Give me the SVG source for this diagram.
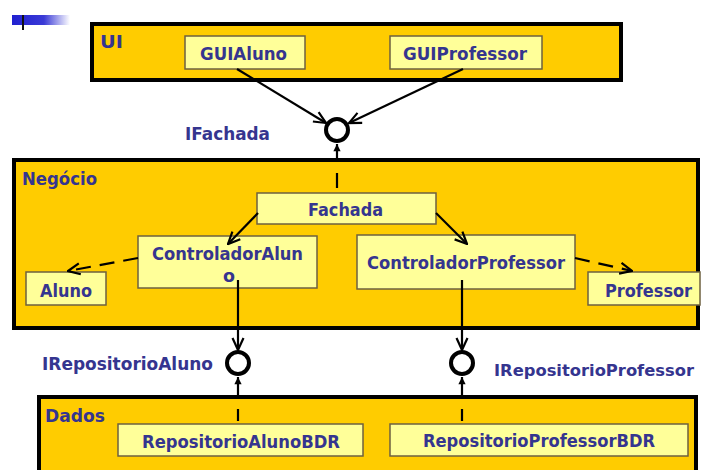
<svg xmlns="http://www.w3.org/2000/svg" width="702" height="470" viewBox="0 0 702 470">
<defs>
<linearGradient id="bar" x1="0" y1="0" x2="1" y2="0"><stop offset="0" stop-color="#2020d0"/><stop offset="0.55" stop-color="#3a3ad6"/><stop offset="1" stop-color="#ffffff"/></linearGradient>
<marker id="open" viewBox="0 0 14 14" refX="13" refY="7" markerWidth="14" markerHeight="14" markerUnits="userSpaceOnUse" orient="auto"><path d="M1,1.5 L13,7 L1,12.5" fill="none" stroke="#000" stroke-width="2.2"/></marker>
<marker id="tri" viewBox="0 0 10 10" refX="9" refY="5" markerWidth="9" markerHeight="9" markerUnits="userSpaceOnUse" orient="auto"><path d="M1,1 L9,5 L1,9 Z" fill="#000"/></marker>
</defs>
<style>
.layer{fill:#ffcc00;stroke:#000;stroke-width:4}
.box{fill:#ffff99;stroke:#6e6040;stroke-width:1.5}
.t{font-family:"DejaVu Sans",Verdana,sans-serif;font-weight:bold;font-size:17.5px;fill:#35358f}
.ln{stroke:#000;stroke-width:2.2;fill:none}
.dash{stroke-dasharray:15 9}
.iface{fill:#fff;stroke:#000;stroke-width:4}
</style>
<rect width="702" height="470" fill="#fff"/>
<rect x="12" y="15" width="58" height="10" fill="url(#bar)"/>
<rect x="22" y="15" width="2" height="15" fill="#111"/>

<g id="UI"><rect class="layer" x="92" y="24" width="529" height="56"/><text class="t" x="100" y="48" textLength="23" lengthAdjust="spacingAndGlyphs">UI</text></g>
<g id="Negocio"><rect class="layer" x="14" y="160" width="684" height="168"/><text class="t" x="22" y="185" textLength="75" lengthAdjust="spacingAndGlyphs">Negócio</text></g>
<g id="Dados"><rect class="layer" x="39" y="397" width="657" height="90"/><text class="t" x="45" y="422" textLength="60" lengthAdjust="spacingAndGlyphs">Dados</text></g>

<g id="GUIAluno"><rect class="box" x="185" y="36" width="120" height="33"/><text class="t" x="200" y="60" textLength="87" lengthAdjust="spacingAndGlyphs">GUIAluno</text></g>
<g id="GUIProfessor"><rect class="box" x="390" y="36" width="152" height="33"/><text class="t" x="403" y="60" textLength="124" lengthAdjust="spacingAndGlyphs">GUIProfessor</text></g>
<g id="Fachada"><rect class="box" x="257" y="193" width="179" height="31"/><text class="t" x="308" y="216" textLength="75" lengthAdjust="spacingAndGlyphs">Fachada</text></g>
<g id="ControladorAluno"><rect class="box" x="138" y="236" width="179" height="52"/><text class="t" x="152" y="260" textLength="151" lengthAdjust="spacingAndGlyphs">ControladorAlun</text><text class="t" x="223" y="282" textLength="12" lengthAdjust="spacingAndGlyphs">o</text></g>
<g id="Aluno"><rect class="box" x="26" y="272" width="80" height="33"/><text class="t" x="40" y="297" textLength="52" lengthAdjust="spacingAndGlyphs">Aluno</text></g>
<g id="ControladorProfessor"><rect class="box" x="357" y="235" width="218" height="54"/><text class="t" x="367" y="269" textLength="198" lengthAdjust="spacingAndGlyphs">ControladorProfessor</text></g>
<g id="Professor"><rect class="box" x="588" y="272" width="112" height="33"/><text class="t" x="605" y="297" textLength="87" lengthAdjust="spacingAndGlyphs">Professor</text></g>
<g id="RepositorioAlunoBDR"><rect class="box" x="118" y="424" width="245" height="32"/><text class="t" x="142" y="448" textLength="198" lengthAdjust="spacingAndGlyphs">RepositorioAlunoBDR</text></g>
<g id="RepositorioProfessorBDR"><rect class="box" x="390" y="424" width="298" height="32"/><text class="t" x="423" y="447" textLength="232" lengthAdjust="spacingAndGlyphs">RepositorioProfessorBDR</text></g>

<g id="connectors">
<path class="ln" d="M237,69 L326,123" marker-end="url(#open)"/>
<path class="ln" d="M463,69 L349,123" marker-end="url(#open)"/>
<path class="ln" d="M337,188 L337,173 M337,162 L337,144" stroke-width="3" marker-end="url(#tri)"/>
<path class="ln" d="M258,213 L228,244" marker-end="url(#open)"/>
<path class="ln" d="M436,213 L467,244" marker-end="url(#open)"/>
<path class="ln dash" d="M138,258 L68,271" marker-end="url(#open)" stroke-width="3"/>
<path class="ln dash" d="M575,258 L632,271" marker-end="url(#open)" stroke-width="3"/>
<path class="ln" d="M238,280 L238,350" marker-end="url(#open)"/>
<path class="ln" d="M462,280 L462,350" marker-end="url(#open)"/>
<path class="ln" d="M238,421 L238,409 M238,399 L238,377" stroke-width="3" marker-end="url(#tri)"/>
<path class="ln" d="M462,421 L462,409 M462,399 L462,377" stroke-width="3" marker-end="url(#tri)"/>
</g>

<g id="IFachada"><circle class="iface" cx="337" cy="130" r="11"/><text class="t" x="185" y="140" textLength="85" lengthAdjust="spacingAndGlyphs">IFachada</text></g>
<g id="IRepositorioAluno"><circle class="iface" cx="238" cy="363" r="11"/><text class="t" x="42" y="370" textLength="171" lengthAdjust="spacingAndGlyphs">IRepositorioAluno</text></g>
<g id="IRepositorioProfessor"><circle class="iface" cx="462" cy="363" r="11"/><text class="t" x="494" y="376" style="font-size:16px" textLength="200" lengthAdjust="spacingAndGlyphs">IRepositorioProfessor</text></g>
</svg>
